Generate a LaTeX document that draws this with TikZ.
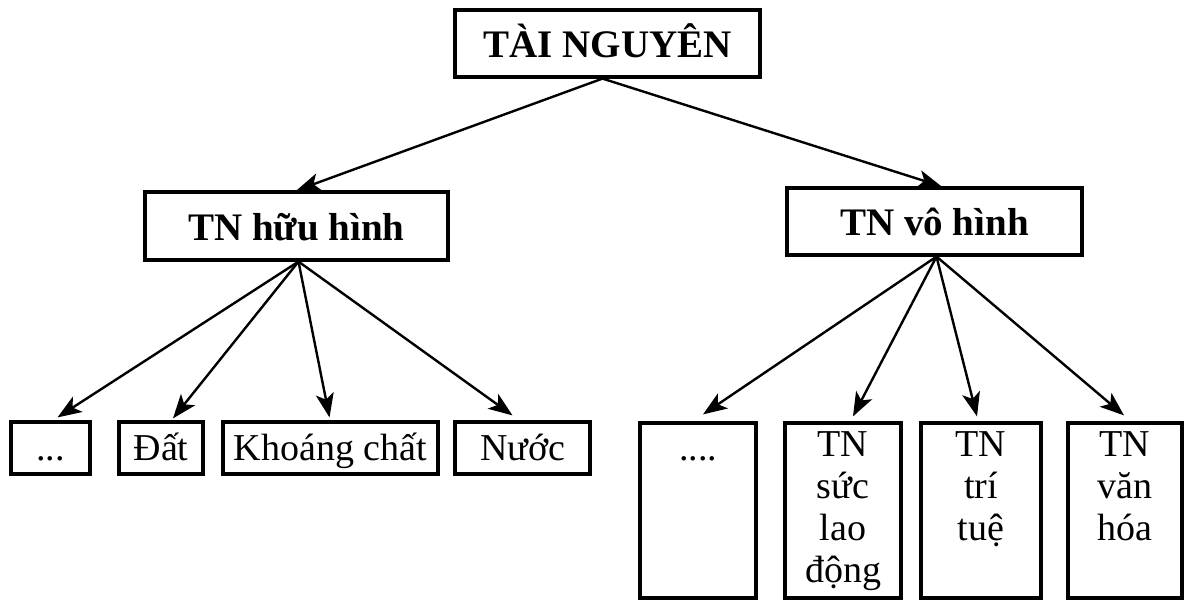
\documentclass[tikz,border=0pt]{standalone}
\usepackage{fontspec}
\setmainfont{Liberation Serif}
\usetikzlibrary{arrows.meta}
\begin{document}
\begin{tikzpicture}[x=1pt,y=-1pt,
  box/.style={draw=black,line width=3.2pt,inner sep=0pt,rectangle},
  bold/.style={font=\fontsize{39}{44}\selectfont\bfseries,text height=32pt,text depth=3pt},
  reg/.style={font=\fontsize{38}{44}\selectfont,text height=30pt,text depth=6pt},
  tall/.style={font=\fontsize{38}{42}\selectfont,align=center,inner sep=0pt},
  arr/.style={line width=2.4pt,-{Stealth[length=24pt,width=18pt,inset=6pt]}}]
\useasboundingbox (0,0) rectangle (1186,601);
% level 0
\node[box,bold,minimum width=305pt,minimum height=67pt] (top) at (607.5,43.5) {TÀI NGUYÊN};
% level 1
\node[box,bold,minimum width=303pt,minimum height=68pt] (huu) at (296.5,226) {TN hữu hình};
\node[box,bold,minimum width=295pt,minimum height=67pt] (vo) at (934.5,221.5) {TN vô hình};
% level 2 left
\node[box,reg,minimum width=79pt,minimum height=52pt] (b1) at (50.5,448) {...};
\node[box,reg,minimum width=84pt,minimum height=52pt] (b2) at (161,448) {Đất};
\node[box,reg,minimum width=215pt,minimum height=52pt] (b3) at (330.5,448) {Khoáng chất};
\node[box,reg,minimum width=135pt,minimum height=52pt] (b4) at (522.5,448) {Nước};
% level 2 right
\node[box,minimum width=116pt,minimum height=175pt] (r1) at (698,510.5) {};
\node[box,minimum width=116pt,minimum height=175pt] (r2) at (843,510.5) {};
\node[box,minimum width=120pt,minimum height=175pt] (r3) at (981,510.5) {};
\node[box,minimum width=114pt,minimum height=175pt] (r4) at (1125,510.5) {};
\node[tall,anchor=base] (r1t) at ([yshift=-39pt]r1.north) {....};
\node[tall,anchor=north] (r2t) at ([yshift=-10pt]r2.north) {TN\\sức\\lao\\động};
\node[tall,anchor=north] (r3t) at ([yshift=-10pt]r3.north) {TN\\trí\\tuệ};
\node[tall,anchor=north] (r4t) at ([yshift=-10pt]r4.north) {TN\\văn\\hóa};
% connectors
\draw[arr] ([xshift=-5pt]top.south) -- (huu.north);
\draw[arr] ([xshift=-5pt]top.south) -- ([xshift=7pt]vo.north);
\draw[arr] ([xshift=2pt]huu.south) -- ([xshift=7pt,yshift=3pt]b1.north);
\draw[arr] ([xshift=2pt]huu.south) -- ([xshift=12pt,yshift=2pt]b2.north);
\draw[arr] ([xshift=2pt]huu.south) -- ([xshift=-1pt,yshift=3pt]b3.north);
\draw[arr] ([xshift=2pt]huu.south) -- ([xshift=-10pt,yshift=5pt]b4.north);
\draw[arr] ([xshift=2pt]vo.south) -- ([xshift=5pt,yshift=7pt]r1.north);
\draw[arr] ([xshift=2pt]vo.south) -- ([xshift=10pt,yshift=5pt]r2.north);
\draw[arr] ([xshift=2pt]vo.south) -- ([xshift=-4pt,yshift=5pt]r3.north);
\draw[arr] ([xshift=2pt]vo.south) -- ([xshift=-1pt,yshift=6pt]r4.north);
\end{tikzpicture}
\end{document}
